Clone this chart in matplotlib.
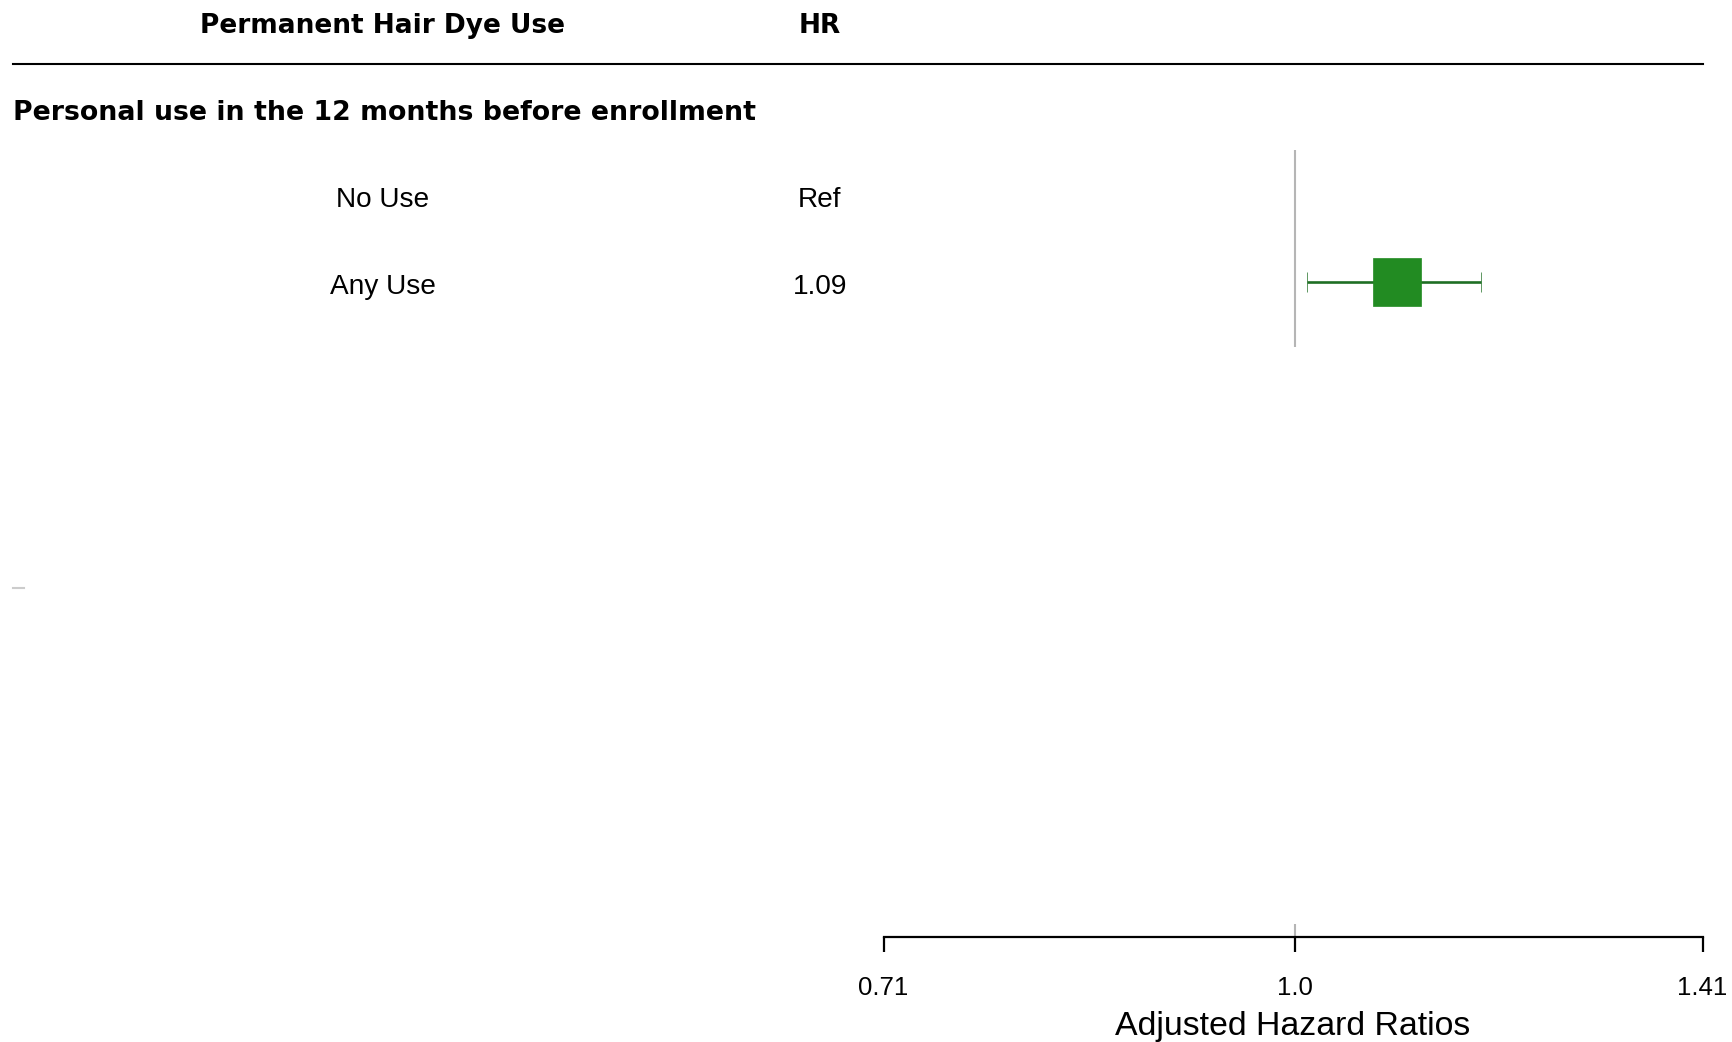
import numpy as np
import matplotlib
matplotlib.use("Agg")
import matplotlib.pyplot as plt
import matplotlib.transforms as mtransforms

# table contents
header_label = "Permanent Hair Dye Use"
header_value = "HR"
section_title = "Personal use in the 12 months before enrollment"
row_labels = ["No Use", "Any Use"]
row_values = ["Ref", "1.09"]

# hazard ratios with 95% CI (reference row has no estimate)
hr = [np.nan, 1.09]
ci_low = [np.nan, 1.01]
ci_high = [np.nan, 1.17]

# axis runs from 1/sqrt(2) to 1.41 on a log scale
x_limits = [0.707, 1.41]
tick_vals = [0.707, 1.0, 1.41]
tick_text = ["0.71", "1.0", "1.41"]
x_title = "Adjusted Hazard Ratios"

green = "#228B22"
green_dark = "#1f6f24"
W, H, DPI = 1732, 1042, 100


def main():
    fig = plt.figure(figsize=(W / DPI, H / DPI), dpi=DPI)
    fig.patch.set_facecolor("white")

    # forest panel; y is in "row" units, row 0 = column header
    ax = fig.add_axes([883.5 / W, 1 - 937 / H, 819 / W, 937 / H])
    ax.set_xscale("log")
    ax.set_xlim(*x_limits)
    ax.set_ylim(10.529, -0.241)
    ax.patch.set_alpha(0)

    for s in ("top", "left", "right"):
        ax.spines[s].set_visible(False)
    ax.spines["bottom"].set_linewidth(1.6)
    ax.set_yticks([])
    ax.xaxis.set_minor_locator(matplotlib.ticker.NullLocator())
    ax.set_xticks(tick_vals)
    ax.set_xticklabels(tick_text, fontfamily="Liberation Sans", fontsize=18.5)
    ax.tick_params(axis="x", direction="out", length=11, width=1.6, pad=17)
    ax.set_xlabel(x_title, fontfamily="Liberation Sans", fontsize=24.4, labelpad=8)

    # reference line at HR = 1
    ax.vlines(1.0, 1.483, 3.747, color="#b5b5b5", lw=1.5, zorder=1)
    ax.vlines(1.0, 10.379, 10.529, color="#b5b5b5", lw=1.5, zorder=1, clip_on=False)

    row_y = np.arange(len(row_labels)) + 2
    est = np.array(hr)
    lo = np.array(ci_low)
    hi = np.array(ci_high)
    ok = ~np.isnan(est)
    ax.errorbar(est[ok], row_y[ok],
                xerr=[est[ok] - lo[ok], hi[ok] - est[ok]],
                fmt="s", ms=34.2, mfc=green, mec=green, mew=0.5,
                ecolor=green_dark, elinewidth=1.9, capsize=7.2, capthick=2.3,
                zorder=3)

    # rule under the column headers
    ax.axhline(0.494, xmin=(13 - 883.5) / 819, xmax=1.0, color="black",
               lw=1.5, clip_on=False)

    # text columns: figure x, data y
    blend = mtransforms.blended_transform_factory(fig.transFigure, ax.transData)
    col_label = 383 / W
    col_value = 820 / W
    dy = 0.06
    bold = dict(fontfamily="DejaVu Sans", fontweight="bold",
                va="center", transform=blend)
    plain = dict(fontfamily="Liberation Sans", fontsize=20.2,
                 va="center", transform=blend)

    ax.text(col_label, 0 + dy, header_label, ha="center", fontsize=19, **bold)
    ax.text(col_value, 0 + dy, header_value, ha="center", fontsize=19, **bold)
    ax.text(13 / W, 1 + dy, section_title, ha="left", fontsize=19.3, **bold)
    for y, lab, val in zip(row_y, row_labels, row_values):
        ax.text(col_label, y + dy, lab, ha="center", **plain)
        ax.text(col_value, y + dy, val, ha="center", **plain)

    # stray blank-row marker on the left margin
    ax.plot([13 / W, 24 / W], [6.517, 6.517], transform=blend,
            color="#cccccc", lw=1.5, clip_on=False)

    fig.savefig("out.png", dpi=DPI, facecolor="white")


if __name__ == "__main__":
    main()
